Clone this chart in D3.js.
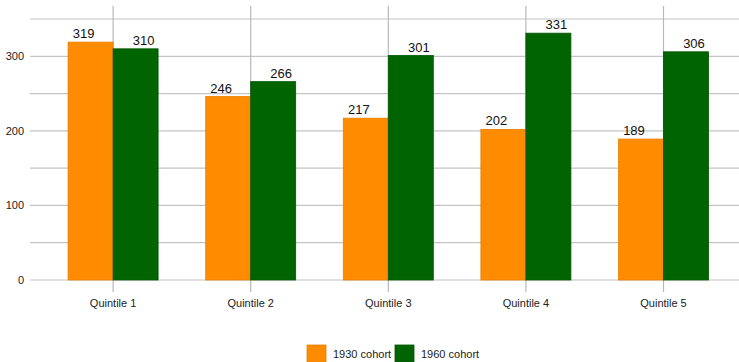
<!DOCTYPE html>
<html>
<head>
<meta charset="utf-8">
<script src="https://cdn.jsdelivr.net/npm/d3@7"></script>
<style>
  html, body { margin: 0; padding: 0; background: #fff; }
  svg { display: block; font-family: "Liberation Sans", Arial, Helvetica, sans-serif; }
</style>
</head>
<body>
<svg id="chart" width="739" height="362"></svg>
<script>
// Quintile groups and the two cohorts compared in each
const categories = ["Quintile 1", "Quintile 2", "Quintile 3", "Quintile 4", "Quintile 5"];
const seriesNames = ["1930 cohort", "1960 cohort"];
const cohort1930 = [319, 246, 217, 202, 189];
const cohort1960 = [310, 266, 301, 331, 306];
const seriesColors = ["#ff8c00", "#006400"];
const seriesStroke = ["#e67e00", "#005400"];
const yTickLabels = [0, 100, 200, 300];
const yGridValues = [0, 50, 100, 150, 200, 250, 300, 350];

const svg = d3.select("#chart");
const gridLeft = 30, gridRight = 739;

const x0 = d3.scaleBand().domain(categories).range([44.3, 732.3]).padding(0);
const bw = x0.bandwidth();
const x1 = d3.scaleBand().domain(seriesNames).range([bw * 0.173, bw * 0.827]).padding(0);
const y = d3.scaleLinear().domain([0, 350]).range([280, 19]);

const values = [cohort1930, cohort1960];

// horizontal gridlines
svg.append("g").selectAll("line").data(yGridValues).join("line")
  .attr("x1", gridLeft).attr("x2", gridRight)
  .attr("y1", d => y(d)).attr("y2", d => y(d))
  .attr("stroke", "#c4c4c4").attr("stroke-width", 1.2);

// vertical gridlines at category centres, extending below the axis as ticks
svg.append("g").selectAll("line").data(categories).join("line")
  .attr("x1", d => x0(d) + bw / 2).attr("x2", d => x0(d) + bw / 2)
  .attr("y1", 6).attr("y2", 292)
  .attr("stroke", "#b8b8b8").attr("stroke-width", 1.2);

// y-axis labels
const yAxis = d3.axisLeft(y).tickValues(yTickLabels).tickSize(0).tickPadding(0);
svg.append("g").attr("transform", "translate(24,0)").call(yAxis)
  .call(g => g.select(".domain").remove())
  .selectAll("text")
  .attr("font-size", 11).attr("fill", "#222")
  .attr("font-family", "Liberation Sans, Arial, sans-serif");

// x-axis labels
const xAxis = d3.axisBottom(x0).tickSize(0).tickPadding(0);
svg.append("g").attr("transform", "translate(0,299)").call(xAxis)
  .call(g => g.select(".domain").remove())
  .selectAll("text")
  .attr("font-size", 11).attr("fill", "#222")
  .attr("font-family", "Liberation Sans, Arial, sans-serif");

// bars
const groups = svg.append("g").selectAll("g").data(categories).join("g")
  .attr("transform", d => `translate(${x0(d)},0)`);

seriesNames.forEach((s, si) => {
  groups.append("rect")
    .attr("x", x1(s))
    .attr("width", x1.bandwidth())
    .attr("y", (d, i) => y(values[si][i]))
    .attr("height", (d, i) => y(0) - y(values[si][i]))
    .attr("fill", seriesColors[si])
    .attr("stroke", seriesStroke[si])
    .attr("stroke-width", 0.8);

  // value labels, nudged outward from the pair
  groups.append("text")
    .attr("x", x1(s) + x1.bandwidth() / 2 + (si === 0 ? -7 : 8))
    .attr("y", (d, i) => y(values[si][i]) - 4)
    .attr("text-anchor", "middle")
    .attr("font-size", 13).attr("fill", "#111")
    .text((d, i) => values[si][i]);
});

// legend
const legend = svg.append("g").attr("transform", "translate(307,345)");
const legendX = [0, 88];
seriesNames.forEach((s, si) => {
  const g = legend.append("g").attr("transform", `translate(${legendX[si]},0)`);
  g.append("rect").attr("width", 19).attr("height", 17)
    .attr("fill", seriesColors[si]).attr("stroke", seriesStroke[si]).attr("stroke-width", 0.8);
  g.append("text").attr("x", 26).attr("y", 13)
    .attr("font-size", 11).attr("fill", "#222").text(s);
});
</script>
</body>
</html>
